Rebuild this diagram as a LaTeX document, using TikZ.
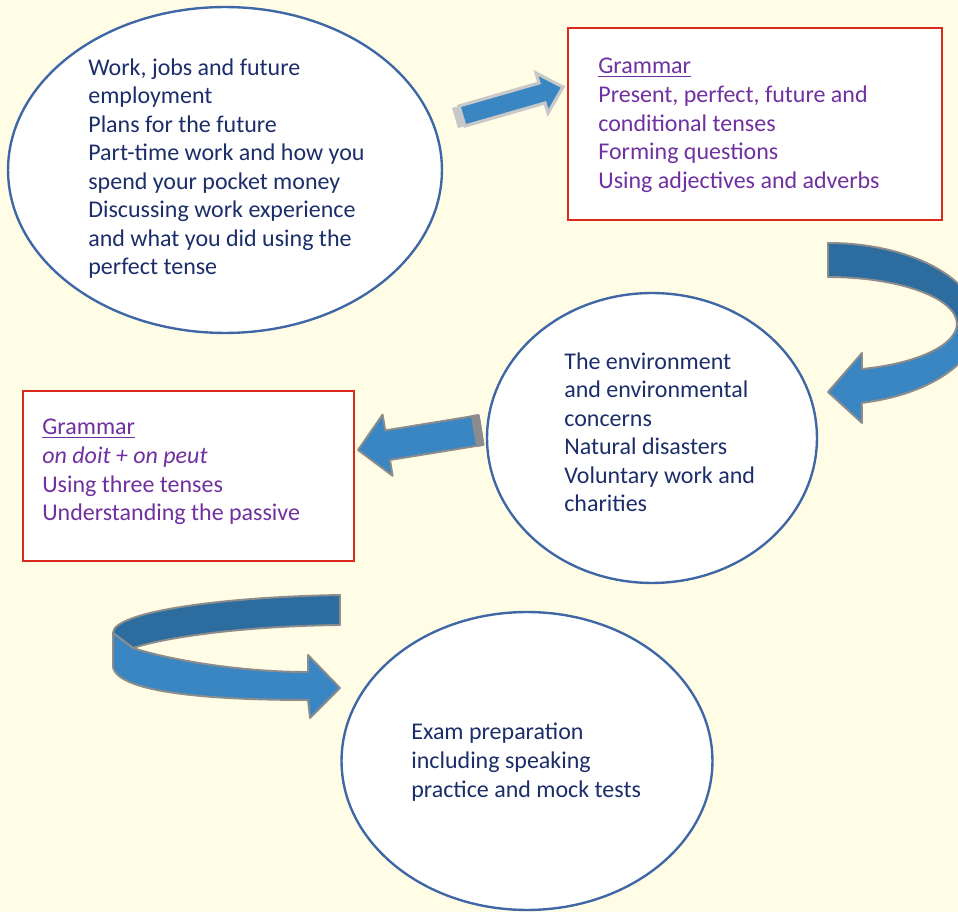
\documentclass[tikz,border=0pt]{standalone}
\usepackage{fontspec}
\setmainfont{Carlito}
\usetikzlibrary{shapes.geometric}
\definecolor{paper}{HTML}{FFFDE6}
\definecolor{rimblue}{HTML}{3F67A6}
\definecolor{boxred}{HTML}{DA2A1C}
\definecolor{inkblue}{HTML}{1B2E6A}
\definecolor{grammar}{HTML}{7030A0}
\definecolor{arrowlight}{HTML}{3A86C2}
\definecolor{arrowdark}{HTML}{2C6C9E}
\definecolor{arrowrim}{HTML}{8C8C8C}
\definecolor{arrowpale}{HTML}{C8C8C8}
\begin{document}
\begin{tikzpicture}[x=.02cm,y=-.02cm,
  bubble/.style={ellipse,draw=rimblue,line width=1.35pt,fill=white,inner sep=0},
  gbox/.style={rectangle,draw=boxred,line width=1.6pt,fill=white,inner sep=0},
  topic/.style={anchor=north west,inner sep=0,align=left,text=inkblue,
    font=\fontsize{13.65}{16.25}\selectfont,execute at begin node=\strut},
  gram/.style={topic,text=grammar},
  back/.style={draw=arrowrim,line width=1.1pt,fill=arrowdark,line join=round},
  front/.style={back,fill=arrowlight}]
 \fill[paper] (0,0) rectangle (958,912);
 \useasboundingbox (0,0) rectangle (958,912);
 \clip (0,0) rectangle (958,912);
 % bubbles and grammar boxes
 \node[bubble,minimum width=8.68cm,minimum height=6.52cm] (jobs) at (225,170) {};
 \node[gbox,minimum width=7.48cm,minimum height=3.84cm] (gramtop) at (755,124) {};
 \node[bubble,minimum width=6.6cm,minimum height=5.8cm] (env) at (652,438) {};
 \node[gbox,minimum width=6.62cm,minimum height=3.4cm] (gramleft) at (188.5,476) {};
 \node[bubble,minimum width=7.42cm,minimum height=5.96cm] (exam) at (527,761) {};
 % texts
 \node[topic] (jobstxt) at (88,58) {Work, jobs and future\\employment\\Plans for the future\\
   Part-time work and how you\\spend your pocket money\\Discussing work experience\\
   and what you did using the\\perfect tense};
 \node[gram] (gramtoptxt) at (598,58) {\underline{Grammar}\\Present, perfect, future and\\
   conditional tenses\\Forming questions\\Using adjectives and adverbs};
 \node[topic] (envtxt) at (564,352) {The environment\\and environmental\\concerns\\
   Natural disasters\\Voluntary work and\\charities};
 \node[gram] (gramlefttxt) at (42,419) {\underline{Grammar}\\\textit{on doit + on peut}\\
   Using three tenses\\Understanding the passive};
 \node[topic] (examtxt) at (411,723) {Exam preparation\\including speaking\\practice and mock tests};
 % straight arrow, top
 \fill[arrowpale] (452,108)--(459,106)--(465,126)--(458,128)--cycle;
 \draw[draw=arrowpale,line width=1.8pt,fill=arrowlight]
   (459,106)--(539,83)--(536,73)--(563,87)--(548,113)--(545,103)--(465,126)--cycle;
 % curved arrow, right
 \draw[back] (828,243) arc[start angle=-90,end angle=0,x radius=150,y radius=81]
   --(957,324) arc[start angle=0,end angle=-90,x radius=129,y radius=47]--cycle;
 \draw[front] (978,324) arc[start angle=0,end angle=77,x radius=150,y radius=81]
   --(862,423)--(828,392)--(862,353)--(862,369)
   arc[start angle=74.7,end angle=0,x radius=129,y radius=47]--cycle;
 % straight arrow, middle
 \draw[front] (478.6,415.2)--(385.2,430.4)--(382.6,414.6)--(358,450)--(392.6,475.8)
   --(390,460)--(483.4,444.8)--cycle;
 \draw[back,fill=arrowrim] (472,416)--(478.6,415.2)--(483.4,444.8)--(477,446)--cycle;
 % curved arrow, bottom left
 \draw[back] (340,595) .. controls (220,597) and (113,612) .. (113,633)--(133,648)
   .. controls (170,636) and (250,626) .. (340,625)--cycle;
 \draw[front] (113,633)--(133,648) .. controls (170,660) and (240,672) .. (308,672)
   --(308,655)--(340,688)--(310,718)--(308,700)
   .. controls (220,700) and (118,694) .. (113,667)--cycle;
\end{tikzpicture}
\end{document}
